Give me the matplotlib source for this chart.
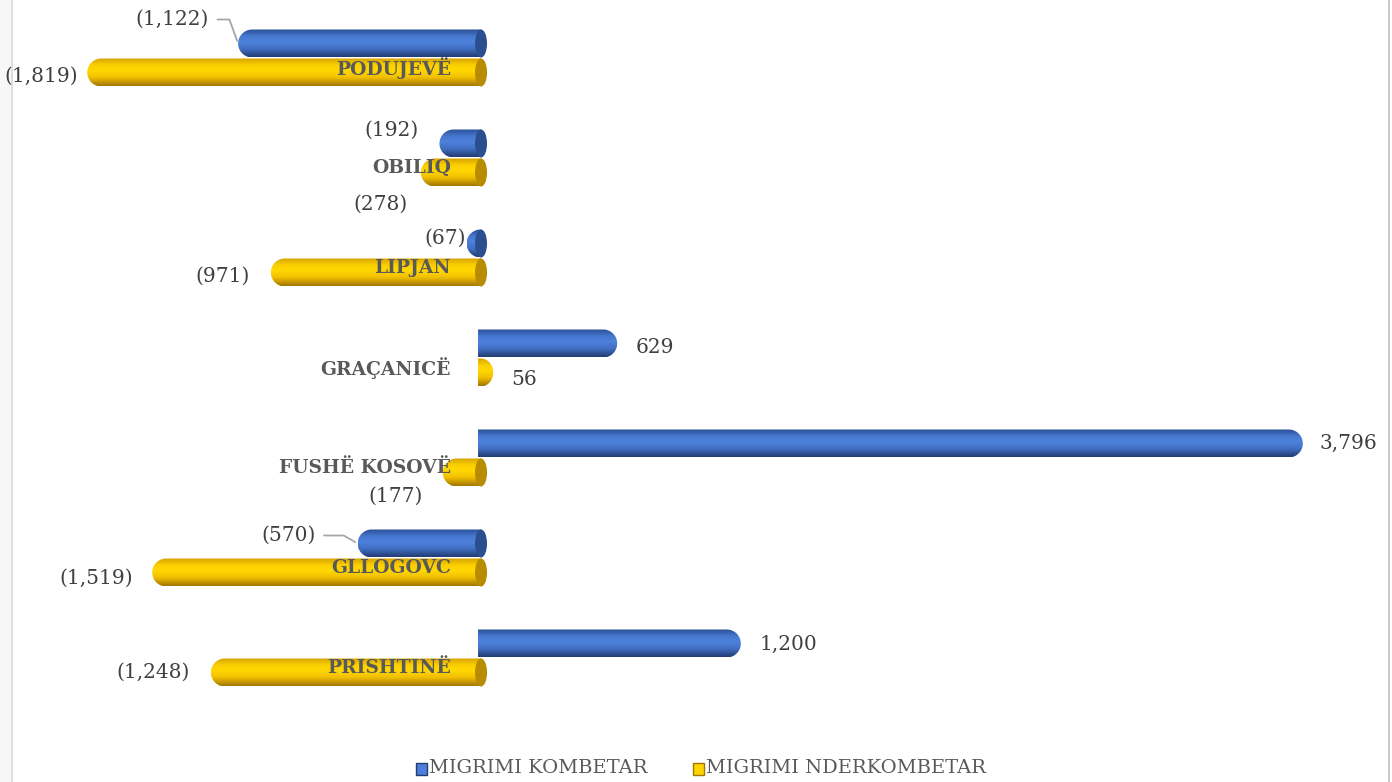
import numpy as np
import matplotlib
matplotlib.use("Agg")
import matplotlib.pyplot as plt
from matplotlib.path import Path
from matplotlib.patches import PathPatch, Ellipse, Rectangle
from matplotlib.colors import LinearSegmentedColormap
from matplotlib.lines import Line2D

# data, top to bottom
categories = ["PODUJEVË", "OBILIQ", "LIPJAN", "GRAÇANICË", "FUSHË KOSOVË", "GLLOGOVC", "PRISHTINË"]
kombetar = [-1122, -192, -67, 629, 3796, -570, 1200]
nderkombetar = [-1819, -278, -971, 56, -177, -1519, -1248]
series_names = ["MIGRIMI KOMBETAR", "MIGRIMI NDERKOMBETAR"]

# label offsets in pixels (dx, dy) relative to bar end, plus leader flag
kom_offsets = [(-29, 24, True), (-21, 13, False), (-1, 5, False), (18, -4, False),
               (17, 0, False), (-42, 8, True), (19, -1, False)]
nder_offsets = [(-9, -4, False), (-13, -32, False), (-21, -4, False), (18, -7, False),
                (-20, -24, False), (-19, -6, False), (-21, 0, False)]

blue_cmap = LinearSegmentedColormap.from_list(
    "blue", [(0, "#2a4f96"), (0.25, "#4677cf"), (0.45, "#4d82dc"), (0.7, "#416fc4"), (1, "#233c72")])
gold_cmap = LinearSegmentedColormap.from_list(
    "gold", [(0, "#d6a300"), (0.25, "#fcd000"), (0.45, "#ffd700"), (0.7, "#f0bf00"), (1, "#a27700")])
blue_cap = "#2b4f8e"
gold_cap = "#b88c00"

fig = plt.figure(figsize=(13.92, 7.82), dpi=100)
ax = fig.add_axes([0, 0, 1, 1])
ax.set_xlim(-2222, 4208)
ax.set_ylim(7.24, -0.58)
ax.axis("off")

px = 0.2165          # pixels per unit on x
h = 0.28
rx = 14 / px
capw = 6 / px
grad = np.linspace(0, 1, 64).reshape(-1, 1)


def draw_bar(y, v, cmap, capcolor):
    r = min(rx, abs(v))
    s = np.sign(v)
    start = 0 if v < 0 else -3 / px
    t = np.linspace(-np.pi / 2, np.pi / 2, 40)
    xs = v - s * r + s * r * np.cos(t)
    ys = y + (h / 2) * np.sin(t)
    verts = [(start, y - h / 2)] + list(zip(xs, ys)) + [(start, y + h / 2), (start, y - h / 2)]
    codes = [Path.MOVETO] + [Path.LINETO] * (len(verts) - 2) + [Path.CLOSEPOLY]
    patch = PathPatch(Path(verts, codes), facecolor="none", edgecolor="none")
    ax.add_patch(patch)
    im = ax.imshow(grad, extent=[min(start, v), max(start, v), y + h / 2, y - h / 2],
                   cmap=cmap, aspect="auto", interpolation="bicubic", zorder=2)
    im.set_clip_path(patch)
    if v < 0:
        ax.add_patch(Ellipse((0, y), 2 * capw, h, facecolor=capcolor,
                             edgecolor="none", zorder=3))


def fmt(v):
    return "{:,}".format(v) if v >= 0 else "({:,})".format(-v)


for i, cat in enumerate(categories):
    yb = i - 0.145
    yy = i + 0.145
    draw_bar(yb, kombetar[i], blue_cmap, blue_cap)
    draw_bar(yy, nderkombetar[i], gold_cmap, gold_cap)

    for v, y, (dx, dy, lead) in [(kombetar[i], yb, kom_offsets[i]),
                                 (nderkombetar[i], yy, nder_offsets[i])]:
        ha = "right" if v < 0 else "left"
        arrow = None
        if lead:
            arrow = dict(arrowstyle="-", color="#a6a6a6", lw=1.3,
                         shrinkA=4, shrinkB=2, relpos=(1, 0.5),
                         connectionstyle="angle,angleA=0,angleB=%d,rad=0"
                         % (110 if i == 0 else 150))
        ax.annotate(fmt(v), xy=(v, y), xytext=(dx, dy), textcoords="offset pixels",
                    ha=ha, va="center", fontsize=14.5, family="DejaVu Serif",
                    color="#404040", zorder=5, arrowprops=arrow)

    ax.annotate(cat, xy=(0, i), xytext=(-30, -10), textcoords="offset pixels",
                ha="right", va="center", fontsize=13.5, family="DejaVu Serif",
                fontweight="bold", color="#595959", zorder=6)

# legend
lx = [416 / 1392, 693 / 1392]
for k, (cmap, name) in enumerate([(blue_cmap, series_names[0]), (gold_cmap, series_names[1])]):
    fig.patches.append(Rectangle((lx[k], 1 - 775 / 782), 11 / 1392, 12 / 782,
                                 transform=fig.transFigure, facecolor=cmap(0.4),
                                 edgecolor=cmap(1.0), lw=1))
    fig.text(lx[k] + 13 / 1392, 1 - 768 / 782, name, ha="left", va="center",
             fontsize=14, family="DejaVu Serif", color="#595959")

# chart frame
fig.patches.append(Rectangle((0, 0), 12 / 1392, 1, transform=fig.transFigure,
                             facecolor="#f7f7f7", edgecolor="none", zorder=-5))
fig.add_artist(Line2D([12 / 1392, 12 / 1392], [0, 1], color="#d9d9d9", lw=1.2))
fig.add_artist(Line2D([1389 / 1392, 1389 / 1392], [0, 1], color="#bfbfbf", lw=1.2))

fig.savefig("out.png", dpi=100)
